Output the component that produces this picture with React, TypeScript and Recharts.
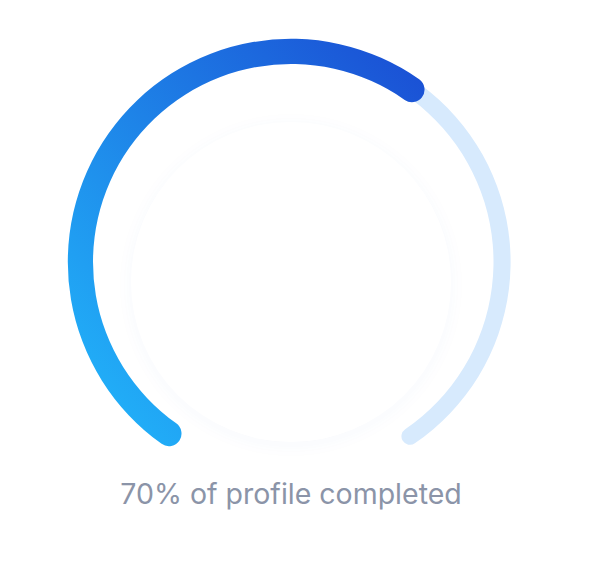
import { PolarAngleAxis, RadialBar, RadialBarChart } from "recharts";

const categories = ["profile"];
const trackValues = [100];
const progressValues = [63];
const caption = "70% of profile completed";

const W = 604;
const H = 561;
const CX = 291;
const CY = 262;
const START = 238;
const END = -58;

const trackData = categories.map((name, i) => ({ name, value: trackValues[i] }));
const progressData = categories.map((name, i) => ({ name, value: progressValues[i] }));

export default function App() {
  return (
    <div
      style={{
        position: "absolute",
        left: 0,
        top: 0,
        width: W,
        height: H,
        background: "#fff",
        overflow: "hidden",
      }}
    >
      {/* faint inner disc */}
      <div
        style={{
          position: "absolute",
          left: CX - 160,
          top: 282 - 160,
          width: 320,
          height: 320,
          borderRadius: "50%",
          background: "#fff",
          boxShadow: "0 3px 18px rgba(50,110,210,0.04)",
        }}
      />
      <div style={{ position: "absolute", left: 0, top: 0 }}>
        <RadialBarChart
          width={W}
          height={H}
          cx={CX}
          cy={CY}
          innerRadius={201.5}
          outerRadius={220.5}
          barSize={19}
          startAngle={START}
          endAngle={END}
          data={trackData}
        >
          <PolarAngleAxis type="number" domain={[0, 100]} tick={false} axisLine={false} />
          <RadialBar
            dataKey="value"
            fill="#d7eafd"
            cornerRadius={9.5}
            isAnimationActive={false}
          />
        </RadialBarChart>
      </div>
      <div style={{ position: "absolute", left: 0, top: 0 }}>
        <RadialBarChart
          width={W}
          height={H}
          cx={CX}
          cy={CY}
          innerRadius={197}
          outerRadius={225}
          barSize={28}
          startAngle={START}
          endAngle={END}
          data={progressData}
        >
          <defs>
            <linearGradient id="progGrad" x1="0" y1="1" x2="1" y2="0">
              <stop offset="0%" stopColor="#22bafc" />
              <stop offset="100%" stopColor="#1a4cd3" />
            </linearGradient>
          </defs>
          <PolarAngleAxis type="number" domain={[0, 100]} tick={false} axisLine={false} />
          <RadialBar
            dataKey="value"
            fill="url(#progGrad)"
            cornerRadius={14}
            isAnimationActive={false}
          />
        </RadialBarChart>
      </div>
      <div
        style={{
          position: "absolute",
          left: 0,
          width: CX * 2,
          top: 476,
          textAlign: "center",
          fontFamily: "Inter, 'Noto Sans', sans-serif",
          fontSize: 28.5,
          color: "#8b94a8",
        }}
      >
        {caption}
      </div>
    </div>
  );
}
